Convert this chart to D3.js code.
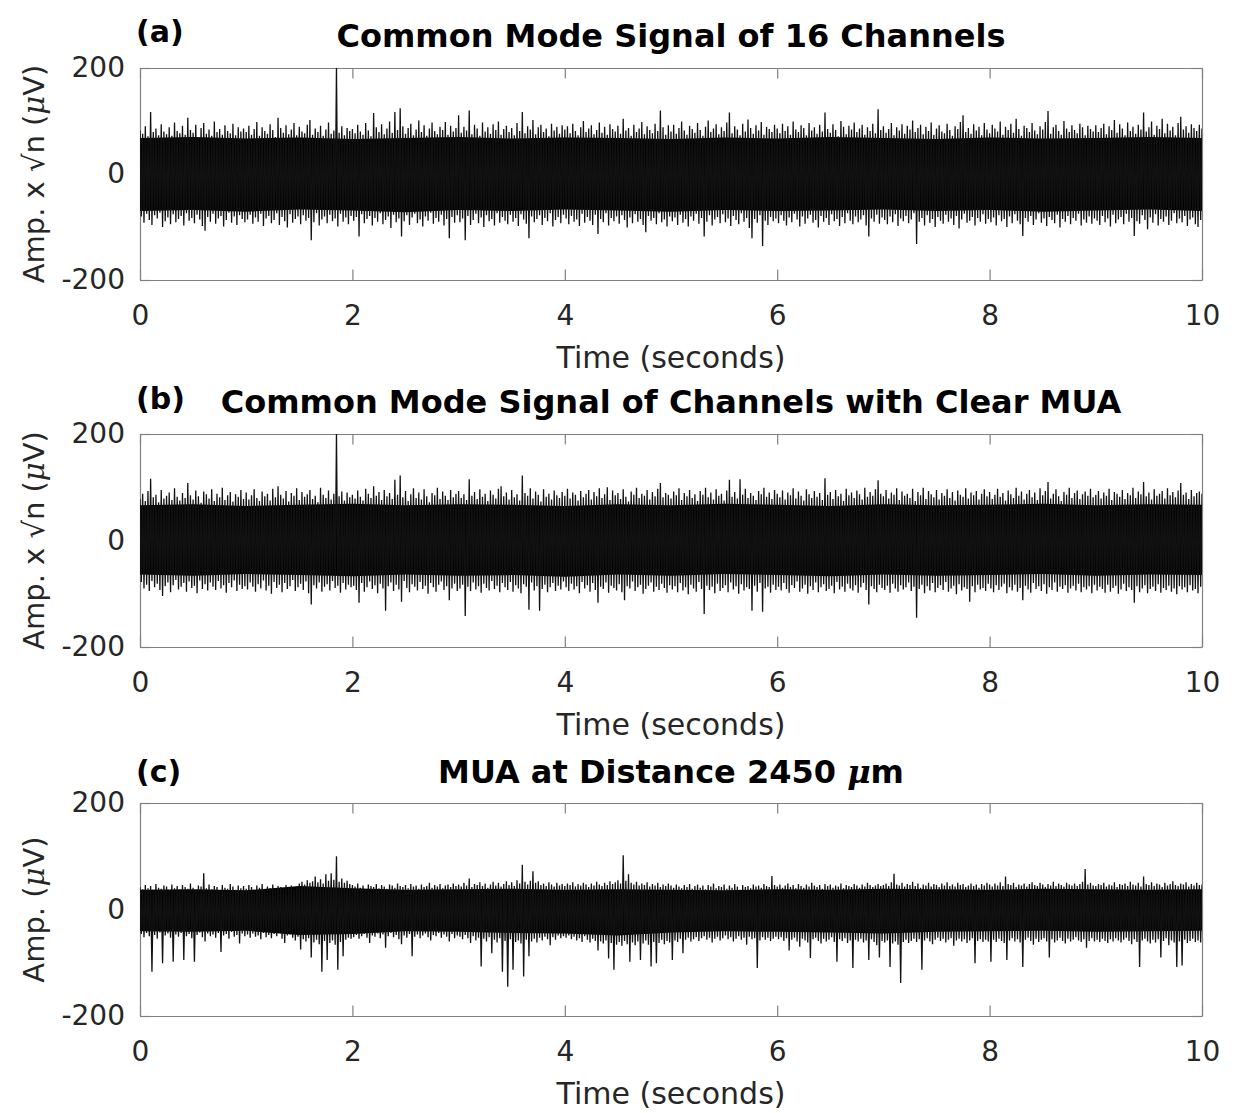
<!DOCTYPE html>
<html>
<head>
<meta charset="utf-8">
<script src="https://cdn.jsdelivr.net/npm/d3@7"></script>
<style>
body { margin: 0; background: #fff; }
text { font-family: "DejaVu Sans", sans-serif; }
</style>
</head>
<body>
<svg id="chart" width="1236" height="1113"></svg>
<script>
// Time grids (seconds): peak samples every 0.025 s, solid core every 0.5 s
const tEnv = d3.range(0, 401).map(i => i * 0.025);
const tCore = d3.range(0, 21).map(i => i * 0.5);
const xTicks = [0, 2, 4, 6, 8, 10];
const yTicks = [-200, 0, 200];

// (a) common mode of 16 channels - upper / lower peaks, one row per second
const hiA = [
  82, 76, 90, 71, 117, 79, 86, 73, 94, 80, 75, 88, 72, 97, 81, 77, 91, 74, 106, 83, 78, 93, 70, 87, 96, 76, 84, 72, 99, 79, 85, 74, 92, 81, 77, 95, 73, 88, 80, 86,
  79, 91, 74, 85, 98, 72, 88, 81, 76, 94, 83, 70, 106, 87, 78, 92, 75, 84, 96, 73, 89, 80, 77, 93, 102, 74, 86, 79, 91, 72, 84, 97, 76, 82, 200, 78, 90, 73, 87, 81,
  85, 77, 93, 80, 74, 96, 82, 71, 115, 88, 79, 94, 75, 86, 99, 78, 117, 83, 124, 90, 76, 87, 95, 73, 84, 101, 79, 92, 72, 86, 97, 81, 75, 89, 83, 98, 74, 91, 80, 87,
  111, 78, 89, 82, 120, 75, 93, 86, 72, 97, 80, 88, 76, 94, 83, 99, 74, 85, 91, 79, 87, 73, 96, 81, 117, 77, 90, 84, 102, 75, 88, 93, 79, 86, 71, 95, 82, 89, 76, 92,
  84, 90, 77, 95, 81, 73, 88, 100, 79, 86, 92, 75, 83, 97, 78, 89, 74, 94, 85, 80, 91, 76, 104, 82, 87, 72, 93, 79, 86, 98, 75, 90, 83, 77, 95, 81, 120, 88, 74, 92,
  80, 93, 76, 87, 99, 82, 74, 91, 85, 78, 96, 83, 72, 89, 101, 79, 86, 94, 75, 88, 81, 97, 116, 77, 90, 84, 73, 95, 80, 103, 87, 76, 92, 82, 98, 74, 89, 85, 79, 93,
  86, 77, 95, 81, 90, 74, 99, 84, 79, 92, 87, 73, 96, 82, 88, 76, 93, 80, 116, 85, 78, 94, 83, 71, 100, 89, 75, 91, 84, 97, 79, 86, 93, 74, 88, 81, 95, 77, 122, 83,
  90, 78, 85, 96, 73, 88, 82, 94, 76, 91, 84, 101, 79, 87, 93, 75, 89, 81, 97, 74, 86, 92, 80, 77, 95, 83, 72, 90, 85, 98, 111, 79, 87, 76, 94, 82, 89, 73, 96, 84,
  77, 93, 86, 80, 99, 74, 89, 83, 95, 78, 104, 85, 72, 91, 87, 79, 96, 82, 75, 90, 84, 98, 119, 76, 88, 93, 81, 74, 100, 86, 79, 92, 83, 77, 95, 88, 73, 91, 85, 80,
  92, 79, 87, 95, 75, 90, 83, 102, 78, 94, 86, 73, 97, 81, 89, 76, 93, 84, 116, 80, 88, 99, 74, 91, 85, 104, 77, 95, 82, 89, 73, 96, 108, 84, 90, 78, 94, 87, 81, 93,
  86];
const loA = [
  -80, -92, -75, -87, -96, -78, -84, -73, -100, -89, -82, -95, -76, -91, -85, -79, -97, -74, -88, -83, -93, -77, -86, -98, -107, -81, -90, -75, -94, -84, -79, -99, -87, -73, -92, -80, -96, -78, -85, -91,
  -86, -77, -94, -82, -90, -75, -98, -84, -79, -93, -87, -74, -96, -81, -89, -101, -76, -92, -85, -80, -95, -78, -88, -83, -125, -91, -74, -97, -86, -80, -93, -77, -89, -84, -99, -75, -90, -82, -95, -79,
  -88, -81, -118, -76, -93, -85, -79, -97, -83, -90, -74, -95, -87, -80, -102, -77, -91, -84, -118, -89, -78, -96, -82, -75, -93, -86, -99, -80, -88, -73, -94, -83, -90, -77, -97, -85, -121, -81, -92, -78,
  -91, -84, -125, -79, -96, -87, -75, -93, -82, -100, -78, -89, -85, -97, -74, -92, -81, -88, -95, -77, -90, -83, -98, -76, -86, -94, -121, -80, -91, -85, -78, -96, -83, -89, -74, -99, -87, -81, -93, -77,
  -84, -95, -79, -90, -86, -98, -75, -92, -81, -88, -96, -77, -113, -85, -91, -74, -97, -83, -89, -80, -94, -78, -87, -101, -82, -93, -76, -90, -85, -96, -110, -79, -88, -83, -95, -74, -91, -86, -99, -80,
  -89, -82, -96, -77, -92, -85, -99, -80, -88, -75, -94, -83, -118, -90, -78, -97, -86, -81, -93, -76, -91, -84, -98, -79, -87, -95, -74, -90, -83, -102, -121, -85, -92, -78, -136, -88, -96, -81, -89, -84,
  -93, -78, -88, -97, -82, -91, -75, -86, -99, -80, -94, -84, -77, -92, -87, -101, -79, -90, -83, -96, -76, -89, -85, -98, -81, -93, -74, -88, -95, -80, -91, -86, -78, -97, -118, -84, -90, -77, -94, -82,
  -87, -95, -80, -91, -76, -98, -84, -89, -79, -93, -86, -74, -132, -90, -83, -97, -78, -92, -85, -100, -81, -88, -94, -77, -90, -84, -96, -79, -103, -86, -75, -92, -88, -81, -97, -83, -90, -76, -94, -85,
  -91, -82, -97, -78, -89, -85, -100, -80, -93, -76, -88, -95, -117, -83, -90, -79, -96, -86, -74, -92, -84, -98, -81, -87, -93, -77, -101, -85, -90, -79, -95, -83, -88, -75, -97, -86, -92, -80, -94, -84,
  -88, -96, -79, -91, -84, -99, -77, -93, -86, -81, -95, -75, -90, -83, -117, -89, -94, -78, -87, -104, -82, -92, -76, -97, -85, -90, -80, -96, -88, -74, -93, -84, -91, -79, -98, -86, -82, -95, -100, -87,
  -90];
const coreHiA = [68, 70, 67, 69, 66, 68, 70, 67, 69, 68, 66, 69, 67, 70, 68, 66, 69, 67, 68, 70, 68];
const coreLoA = [-70, -68, -71, -67, -69, -72, -68, -70, -67, -69, -71, -68, -70, -69, -67, -70, -68, -71, -69, -67, -70];

// (b) common mode of channels with clear MUA
const hiB = [
  78, 88, 74, 93, 116, 81, 86, 72, 95, 79, 84, 90, 76, 98, 82, 75, 89, 80, 108, 85, 77, 94, 83, 71, 92, 87, 79, 96, 74, 88, 81, 99, 76, 85, 91, 73, 87, 82, 95, 78,
  90, 77, 85, 96, 80, 74, 92, 83, 88, 75, 97, 81, 102, 86, 79, 93, 73, 89, 84, 98, 76, 91, 82, 87, 95, 78, 84, 72, 99, 86, 80, 94, 77, 88, 200, 83, 92, 75, 90, 81,
  86, 79, 94, 82, 75, 97, 88, 80, 102, 84, 91, 76, 95, 83, 89, 78, 114, 86, 122, 81, 93, 74, 87, 98, 80, 90, 77, 96, 83, 72, 89, 85, 99, 78, 92, 84, 76, 95, 81, 88,
  93, 80, 87, 76, 115, 84, 91, 78, 96, 82, 88, 74, 94, 86, 79, 97, 102, 83, 90, 77, 95, 81, 87, 75, 122, 89, 84, 98, 79, 92, 86, 73, 96, 82, 88, 77, 94, 85, 80, 91,
  84, 97, 79, 90, 86, 75, 93, 81, 88, 95, 77, 91, 83, 98, 80, 87, 100, 76, 94, 85, 89, 78, 96, 82, 73, 92, 86, 99, 80, 88, 84, 95, 77, 91, 83, 97, 108, 81, 89, 86,
  79, 92, 85, 98, 76, 89, 83, 95, 80, 87, 74, 93, 86, 99, 81, 90, 77, 96, 84, 88, 75, 94, 114, 82, 91, 79, 115, 86, 97, 80, 89, 84, 76, 93, 87, 99, 82, 90, 78, 95,
  88, 81, 94, 77, 90, 85, 98, 79, 92, 84, 75, 96, 87, 80, 93, 82, 89, 76, 117, 86, 91, 78, 95, 83, 88, 74, 97, 85, 90, 80, 94, 87, 77, 99, 82, 91, 84, 96, 113, 88,
  83, 95, 79, 90, 86, 98, 76, 92, 84, 88, 80, 97, 74, 91, 85, 99, 78, 93, 87, 81, 95, 77, 89, 84, 96, 80, 91, 75, 94, 86, 82, 98, 79, 90, 85, 93, 77, 88, 96, 83,
  91, 78, 86, 97, 82, 89, 75, 94, 87, 80, 99, 84, 92, 77, 88, 95, 81, 90, 76, 98, 85, 93, 110, 79, 88, 96, 83, 74, 91, 86, 99, 80, 89, 94, 78, 87, 92, 84, 97, 81,
  86, 93, 79, 90, 84, 97, 76, 91, 88, 82, 95, 78, 89, 85, 99, 80, 92, 87, 110, 83, 90, 77, 96, 84, 88, 93, 79, 98, 85, 91, 81, 94, 108, 86, 90, 78, 95, 83, 89, 92,
  88];
const loB = [
  -78, -90, -83, -95, -76, -88, -81, -93, -104, -86, -79, -97, -84, -74, -92, -87, -80, -96, -77, -89, -85, -99, -75, -91, -82, -94, -79, -87, -93, -76, -90, -84, -98, -80, -88, -75, -95, -83, -91, -86,
  -92, -79, -87, -96, -82, -90, -75, -94, -85, -100, -78, -89, -83, -97, -80, -91, -86, -74, -95, -88, -81, -93, -77, -99, -120, -84, -90, -79, -96, -87, -82, -94, -76, -89, -85, -98, -80, -92, -83, -88,
  -85, -93, -117, -80, -96, -88, -77, -91, -84, -99, -81, -90, -132, -86, -79, -95, -83, -92, -115, -76, -89, -97, -82, -87, -94, -78, -91, -85, -100, -80, -88, -96, -83, -77, -93, -86, -112, -90, -81, -95,
  -90, -83, -142, -87, -95, -79, -92, -86, -98, -81, -89, -94, -76, -91, -85, -97, -80, -88, -93, -78, -96, -84, -90, -99, -82, -87, -130, -79, -94, -86, -132, -91, -83, -97, -88, -80, -95, -85, -92, -77,
  -88, -95, -81, -92, -86, -99, -78, -90, -84, -96, -80, -93, -117, -87, -91, -79, -98, -85, -89, -94, -82, -97, -112, -86, -90, -77, -95, -88, -83, -100, -91, -85, -79, -96, -87, -93, -81, -89, -98, -84,
  -92, -86, -97, -80, -94, -88, -101, -83, -90, -96, -78, -91, -138, -85, -93, -87, -99, -81, -95, -89, -84, -97, -79, -92, -86, -100, -82, -94, -88, -91, -132, -85, -96, -80, -134, -90, -87, -98, -83, -93,
  -87, -94, -80, -91, -98, -84, -89, -77, -96, -90, -83, -100, -86, -93, -79, -97, -88, -82, -95, -91, -85, -99, -78, -92, -87, -96, -81, -90, -94, -84, -98, -88, -80, -93, -120, -86, -91, -97, -83, -89,
  -93, -85, -98, -81, -90, -96, -84, -92, -88, -79, -95, -87, -145, -91, -83, -99, -86, -94, -80, -97, -89, -84, -93, -78, -96, -90, -85, -101, -82, -94, -88, -91, -115, -86, -97, -83, -92, -89, -95, -81,
  -90, -97, -84, -93, -87, -81, -99, -88, -94, -83, -96, -89, -112, -85, -92, -98, -80, -91, -86, -95, -82, -100, -88, -93, -79, -96, -87, -91, -84, -98, -90, -85, -94, -81, -97, -88, -92, -86, -99, -83,
  -94, -87, -91, -98, -83, -96, -89, -85, -100, -92, -81, -95, -88, -93, -117, -86, -97, -90, -84, -99, -91, -87, -95, -82, -98, -89, -93, -85, -96, -90, -101, -86, -92, -88, -97, -84, -94, -91, -99, -87,
  -93];
const coreHiB = [66, 68, 65, 67, 69, 66, 68, 67, 65, 68, 66, 69, 67, 65, 68, 66, 67, 69, 66, 68, 67];
const coreLoB = [-64, -66, -63, -65, -67, -64, -66, -65, -68, -64, -66, -63, -65, -67, -64, -66, -65, -63, -66, -64, -65];

// (c) MUA at 2450 um
const hiC = [
  42, 38, 46, 40, 44, 37, 48, 41, 39, 45, 43, 36, 47, 40, 44, 38, 46, 42, 39, 49, 41, 37, 45, 43, 68, 40, 47, 38, 44, 42, 36, 46, 41, 39, 48, 43, 37, 45, 40, 44,
  39, 46, 42, 37, 45, 41, 48, 38, 43, 40, 47, 36, 44, 42, 39, 46, 41, 45, 38, 43, 49, 52, 47, 55, 50, 53, 62, 51, 57, 49, 66, 54, 68, 56, 100, 52, 58, 50, 54, 48,
  46, 43, 49, 41, 45, 38, 47, 44, 42, 48, 40, 46, 43, 39, 47, 45, 41, 49, 44, 42, 46, 40, 48, 43, 45, 39, 47, 42, 44, 50, 41, 46, 43, 48, 40, 45, 47, 42, 49, 44,
  47, 43, 50, 45, 58, 42, 48, 46, 51, 44, 49, 41, 47, 52, 45, 50, 43, 48, 53, 46, 51, 44, 55, 49, 84, 52, 47, 54, 72, 50, 53, 46, 49, 44, 51, 47, 43, 50, 45, 48,
  44, 49, 46, 51, 43, 48, 45, 50, 47, 42, 49, 45, 52, 47, 44, 50, 46, 53, 48, 51, 55, 49, 102, 54, 66, 50, 47, 52, 45, 49, 46, 51, 43, 48, 45, 50, 42, 47, 44, 49,
  45, 41, 47, 43, 40, 46, 42, 48, 39, 44, 47, 41, 45, 38, 46, 43, 49, 40, 44, 42, 47, 39, 45, 41, 48, 43, 37, 46, 42, 44, 40, 47, 43, 45, 41, 48, 44, 42, 63, 46,
  43, 47, 41, 45, 49, 42, 46, 40, 48, 44, 41, 47, 43, 50, 45, 42, 46, 39, 48, 44, 47, 41, 45, 43, 49, 40, 46, 44, 42, 48, 45, 41, 47, 43, 50, 46, 42, 45, 48, 44,
  46, 49, 44, 51, 67, 47, 45, 50, 43, 48, 46, 52, 44, 49, 41, 47, 45, 50, 43, 48, 46, 42, 49, 45, 51, 44, 47, 43, 50, 46, 48, 42, 45, 49, 44, 47, 41, 48, 45, 50,
  47, 43, 49, 45, 51, 44, 62, 48, 46, 50, 42, 47, 45, 49, 43, 48, 51, 46, 44, 50, 47, 42, 48, 45, 52, 44, 49, 46, 43, 50, 47, 45, 49, 44, 48, 52, 76, 47, 50, 45,
  44, 48, 46, 50, 43, 47, 45, 51, 42, 48, 46, 49, 44, 52, 47, 45, 50, 43, 62, 48, 46, 51, 44, 49, 47, 42, 50, 45, 48, 53, 46, 44, 49, 47, 51, 43, 48, 45, 50, 46,
  47];
const loC = [
  -46, -52, -44, -50, -117, -48, -55, -43, -101, -49, -45, -53, -98, -47, -51, -44, -95, -50, -46, -54, -98, -48, -43, -52, -60, -45, -50, -47, -53, -44, -80, -49, -46, -55, -42, -51, -48, -64, -45, -50,
  -47, -53, -45, -51, -49, -56, -44, -52, -48, -54, -46, -50, -43, -55, -63, -49, -47, -53, -58, -51, -75, -56, -60, -54, -90, -62, -57, -65, -117, -59, -95, -63, -58, -66, -113, -61, -88, -57, -53, -55,
  -52, -48, -55, -50, -46, -53, -63, -49, -51, -45, -54, -47, -72, -50, -44, -52, -48, -56, -65, -49, -53, -46, -88, -51, -47, -54, -49, -45, -52, -58, -48, -50, -44, -53, -47, -51, -60, -46, -54, -49,
  -51, -56, -48, -54, -63, -50, -58, -53, -107, -55, -60, -52, -82, -57, -62, -54, -117, -59, -145, -56, -113, -61, -58, -64, -126, -57, -88, -60, -55, -62, -53, -58, -51, -56, -67, -52, -57, -49, -54, -50,
  -53, -49, -56, -51, -58, -54, -61, -50, -57, -62, -55, -59, -77, -60, -64, -58, -92, -63, -113, -66, -61, -68, -59, -65, -98, -62, -67, -60, -95, -64, -58, -66, -107, -61, -101, -63, -57, -65, -59, -62,
  -95, -58, -61, -55, -82, -57, -53, -60, -56, -52, -59, -54, -50, -57, -53, -62, -55, -51, -58, -54, -49, -56, -52, -60, -55, -50, -57, -53, -66, -51, -56, -54, -110, -58, -52, -57, -53, -59, -55, -51,
  -56, -52, -59, -54, -77, -57, -53, -60, -70, -55, -58, -62, -91, -56, -53, -59, -64, -55, -60, -57, -52, -61, -98, -56, -59, -54, -63, -58, -110, -57, -60, -55, -62, -58, -95, -56, -61, -67, -90, -59,
  -62, -58, -108, -64, -60, -66, -138, -61, -57, -63, -59, -55, -61, -56, -113, -58, -54, -60, -65, -57, -53, -59, -55, -62, -57, -54, -68, -58, -55, -60, -56, -63, -58, -54, -101, -59, -56, -61, -57, -60,
  -98, -57, -61, -55, -59, -63, -95, -58, -54, -60, -56, -62, -108, -57, -53, -59, -66, -55, -61, -57, -54, -60, -90, -56, -62, -58, -53, -59, -64, -55, -60, -57, -52, -58, -61, -56, -72, -59, -54, -60,
  -57, -61, -55, -59, -63, -56, -60, -54, -58, -62, -57, -53, -59, -65, -56, -61, -108, -58, -55, -60, -64, -57, -62, -56, -90, -59, -54, -67, -58, -62, -108, -60, -105, -57, -63, -59, -55, -61, -58, -62,
  -100];
const coreHiC = [37, 38, 36, 44, 40, 37, 38, 39, 37, 38, 37, 36, 38, 37, 39, 38, 37, 39, 38, 37, 38];
const coreLoC = [-41, -42, -40, -48, -46, -41, -42, -44, -45, -49, -43, -41, -42, -43, -45, -42, -41, -40, -42, -41, -40];

const tags = ["(a)", "(b)", "(c)"];
const titles = [
  [{ s: "Common Mode Signal of 16 Channels" }],
  [{ s: "Common Mode Signal of Channels with Clear MUA" }],
  [{ s: "MUA at Distance 2450  " }, { s: "μ", it: true }, { s: "m" }]
];
const yLabels = [
  [{ s: "Amp. x √n (" }, { s: "μ", it: true }, { s: "V)" }],
  [{ s: "Amp. x √n (" }, { s: "μ", it: true }, { s: "V)" }],
  [{ s: "Amp. (" }, { s: "μ", it: true }, { s: "V)" }]
];
const series = [
  { hi: hiA, lo: loA, coreHi: coreHiA, coreLo: coreLoA },
  { hi: hiB, lo: loB, coreHi: coreHiB, coreLo: coreLoB },
  { hi: hiC, lo: loC, coreHi: coreHiC, coreLo: coreLoC }
];

// panel frames (pixels)
const frames = [
  { top: 68, bottom: 280, tagY: 42, titleY: 47 },
  { top: 434, bottom: 647, tagY: 409, titleY: 413 },
  { top: 803, bottom: 1016, tagY: 782, titleY: 783 }
];
const left = 140, right = 1202, tickLen = 10.6;
const axisColor = "#808080", textColor = "#262626";

const svg = d3.select("#chart");
const x = d3.scaleLinear().domain([0, 10]).range([left, right]);

function addRich(sel, parts) {
  parts.forEach(p => {
    const ts = sel.append("tspan").text(p.s);
    if (p.it) ts.attr("font-style", "italic").attr("font-family", "DejaVu Serif");
  });
}

frames.forEach((f, k) => {
  const d = series[k];
  const y = d3.scaleLinear().domain([-200, 200]).range([f.bottom, f.top]);
  const g = svg.append("g");

  // axes: box with inward ticks on all four sides
  g.append("g").attr("transform", `translate(0,${f.bottom})`)
    .call(d3.axisBottom(x).tickValues(xTicks).tickSizeInner(-tickLen).tickSizeOuter(0)
      .tickPadding(25).tickFormat(v => `${v}`));
  g.append("g").attr("transform", `translate(0,${f.top})`)
    .call(d3.axisTop(x).tickValues(xTicks).tickSizeInner(-tickLen).tickSizeOuter(0).tickFormat(() => ""));
  g.append("g").attr("transform", `translate(${left},0)`)
    .call(d3.axisLeft(y).tickValues(yTicks).tickSizeInner(-tickLen).tickSizeOuter(0)
      .tickPadding(15).tickFormat(v => `${v}`));
  g.append("g").attr("transform", `translate(${right},0)`)
    .call(d3.axisRight(y).tickValues(yTicks).tickSizeInner(-tickLen).tickSizeOuter(0).tickFormat(() => ""));

  g.selectAll(".domain, .tick line").attr("stroke", axisColor).attr("stroke-width", 1.2);
  g.selectAll(".tick text").attr("fill", textColor).attr("font-size", 28)
    .attr("font-family", "DejaVu Sans");

  // clip for the trace
  const clipId = "clip" + k;
  svg.append("clipPath").attr("id", clipId).append("rect")
    .attr("x", left).attr("y", f.top).attr("width", right - left).attr("height", f.bottom - f.top);
  const plot = g.append("g").attr("clip-path", `url(#${clipId})`);

  // solid core of the dense trace
  const core = tCore.map((t, i) => ({ t, hi: d.coreHi[i], lo: d.coreLo[i] }));
  plot.append("path")
    .datum(core)
    .attr("fill", "#000")
    .attr("d", d3.area().x(p => x(p.t)).y0(p => y(p.lo)).y1(p => y(p.hi)));

  // trace: alternate between the upper and lower peaks
  const pts = [];
  tEnv.forEach((t, i) => {
    pts.push([t, d.hi[i]]);
    pts.push([t + 0.0125, d.lo[i]]);
  });
  plot.append("path")
    .datum(pts)
    .attr("fill", "none")
    .attr("stroke", "#111")
    .attr("stroke-width", 1.3)
    .attr("stroke-linejoin", "bevel")
    .attr("d", d3.line().x(p => x(p[0])).y(p => y(p[1])));

  // x axis label
  g.append("text")
    .attr("x", (left + right) / 2).attr("y", f.bottom + 88)
    .attr("text-anchor", "middle").attr("font-size", 30).attr("fill", textColor)
    .text("Time (seconds)");

  // y axis label
  const yl = g.append("text")
    .attr("transform", `translate(44,${(f.top + f.bottom) / 2}) rotate(-90)`)
    .attr("text-anchor", "middle").attr("font-size", 29).attr("fill", textColor);
  addRich(yl, yLabels[k]);

  // panel tag and title
  g.append("text")
    .attr("x", 136).attr("y", f.tagY)
    .attr("font-size", 30).attr("font-weight", "bold").attr("fill", "#000")
    .text(tags[k]);
  const tt = g.append("text")
    .attr("x", (left + right) / 2).attr("y", f.titleY)
    .attr("text-anchor", "middle").attr("font-size", 32).attr("font-weight", "bold").attr("fill", "#000");
  addRich(tt, titles[k]);
});
</script>
</body>
</html>
